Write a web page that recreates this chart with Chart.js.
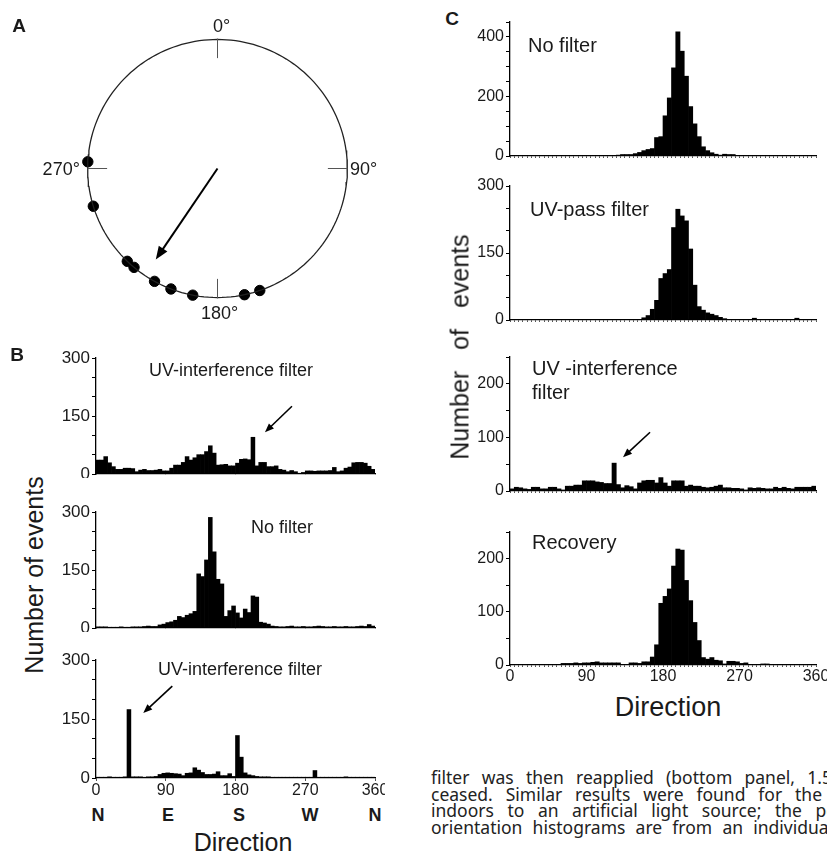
<!DOCTYPE html>
<html>
<head>
<meta charset="utf-8">
<script src="https://cdn.jsdelivr.net/npm/chart.js@4.4.0/dist/chart.umd.min.js"></script>
<style>
html,body{margin:0;padding:0;background:#fff;}
body{width:827px;height:854px;overflow:hidden;position:relative;font-family:"Liberation Sans",Arial,sans-serif;color:#1a1a1a;}
canvas{position:absolute;}
.t{position:absolute;white-space:nowrap;line-height:1;transform:translate(-50%,-50%);}
.l{position:absolute;white-space:nowrap;line-height:1;transform:translate(0,-50%);}
.letra{font-weight:bold;font-size:19px;}
.ylab{font-size:25px;transform:translate(-50%,-50%) rotate(-90deg);}
.cap{position:absolute;left:431px;white-space:nowrap;font-family:"Noto Sans","Open Sans",sans-serif;font-size:17.5px;line-height:1;color:#222;transform:translate(0,-50%);}
</style>
</head>
<body>
<canvas id="polar" width="389" height="335" style="left:23px;top:1px"></canvas>
<canvas id="b1" width="335" height="130" style="left:50px;top:348px"></canvas>
<canvas id="b2" width="335" height="130" style="left:50px;top:502px"></canvas>
<canvas id="b3" width="335" height="152" style="left:50px;top:650px"></canvas>
<canvas id="c1" width="363" height="148" style="left:464px;top:12px"></canvas>
<canvas id="c2" width="363" height="148" style="left:464px;top:176px"></canvas>
<canvas id="c3" width="363" height="148" style="left:464px;top:347px"></canvas>
<canvas id="c4" width="363" height="167" style="left:464px;top:522px"></canvas>

<div class="t letra" style="left:19px;top:25px">A</div>
<div class="t letra" style="left:17px;top:354px">B</div>
<div class="t letra" style="left:452px;top:18px">C</div>

<div class="t" style="left:231px;top:370px;font-size:18px">UV-interference filter</div>
<div class="t" style="left:282px;top:527px;font-size:18px">No filter</div>
<div class="t" style="left:240px;top:669px;font-size:18px">UV-interference filter</div>

<div class="l" style="left:528px;top:45px;font-size:20px">No filter</div>
<div class="l" style="left:530px;top:209px;font-size:20px">UV-pass filter</div>
<div class="l" style="left:532px;top:368px;font-size:20px">UV -interference</div>
<div class="l" style="left:532px;top:392px;font-size:20px">filter</div>
<div class="l" style="left:532px;top:542px;font-size:20px">Recovery</div>

<div class="t ylab" style="left:34px;top:575px">Number of events</div>
<div class="t ylab" style="left:460px;top:347px;word-spacing:14px">Number of events</div>

<div class="t" style="left:98px;top:815px;font-size:18px;font-weight:bold">N</div>
<div class="t" style="left:168px;top:815px;font-size:18px;font-weight:bold">E</div>
<div class="t" style="left:239px;top:815px;font-size:18px;font-weight:bold">S</div>
<div class="t" style="left:310px;top:815px;font-size:18px;font-weight:bold">W</div>
<div class="t" style="left:375px;top:815px;font-size:18px;font-weight:bold">N</div>

<div class="t" style="left:243px;top:842px;font-size:25px">Direction</div>
<div class="t" style="left:668px;top:707px;font-size:27px">Direction</div>

<!-- pie de figura: el prefijo marcado debe terminar en data-fin (px) -->
<div class="cap" style="top:778px" data-fin="822"><span class="pre">filter was then reapplied (bottom panel, 1.</span>5 h) and the</div>
<div class="cap" style="top:794.5px" data-fin="822"><span class="pre">ceased. Similar results were found for the</span> other</div>
<div class="cap" style="top:811px" data-fin="802"><span class="pre">indoors to an artificial light source; the</span> position of</div>
<div class="cap" style="top:827.5px" data-fin="743"><span class="pre">orientation histograms are from an</span> individual</div>

<script>
// ---- datos ----
const BIN = 5; // ancho de cada clase, en grados

// Panel A: direcciones individuales (grados) y vector medio
const rumbosA = [273, 253, 224, 220, 209, 201, 191, 168, 161];
const rumboMedio = 214;
const largoMedio = 0.85;
const etiquetasBrujula = ['0°', '90°', '180°', '270°'];

// Panel B (eventos por clase de 5°)
const uvFiltro1 = [36,36,45,29,19,12,12,15,15,14, 6,10,12,9,9,10,12,8,8,15,
  23,23,30,45,36,42,50,50,58,73, 54,23,24,25,21,21,28,38,39,37,
  95,21,30,30,19,19,21,12,10,6, 9,6,2,4,8,8,7,8,8,8,
  9,17,6,8,15,18,29,30,30,28, 20,12];
const sinFiltroB = [3,3,3,2,2,2,3,2,2,3, 3,3,4,5,4,4,8,10,14,16,
  20,30,27,33,37,43,140,133,176,286, 197,126,114,30,45,57,39,26,49,40,
  83,80,15,13,10,5,4,3,3,4, 5,3,3,4,3,3,4,5,4,3,
  3,4,3,3,4,3,3,4,5,4, 9,5];
const uvFiltro2 = [2,2,2,3,2,2,2,3,174,3, 3,3,2,3,3,4,9,12,13,12,
  11,10,6,12,13,26,20,14,9,9, 10,16,6,6,11,4,108,53,13,8,
  6,4,3,3,3,2,2,2,2,2, 2,2,2,2,2,2,19,2,2,2,
  2,2,2,2,3,2,2,2,2,2, 2,2];

// Panel C
const sinFiltroC = [0,0,0,0,0,0,0,0,0,0, 0,0,0,0,0,0,0,0,0,0,
  0,0,0,0,2,3,5,5,5,8, 12,18,22,25,62,65,135,195,296,417,
  352,268,166,108,65,31,18,11,6,3, 6,5,5,2,2,1,1,2,2,1,
  1,0,0,0,0,0,0,0,0,0, 0,0];
const uvPaso = [0,0,0,0,0,0,0,0,0,0, 0,0,0,0,0,0,0,0,0,0,
  0,0,0,0,0,0,0,0,0,0, 1,5,10,24,44,93,104,113,207,248,
  233,222,159,78,30,22,16,13,10,6, 3,1,1,1,1,1,1,4,1,1,
  1,1,1,1,1,1,1,4,1,1, 1,1];
const uvFiltroC = [4,7,6,4,3,7,7,4,4,7, 7,4,2,9,9,11,11,19,19,19,
  17,16,14,14,52,12,6,10,8,4, 15,19,20,20,15,25,15,9,19,19,
  19,9,11,9,9,7,6,7,9,11, 6,6,5,5,4,2,6,5,6,5,
  4,4,7,5,7,5,4,7,7,7, 7,9];
const recuperacion = [0,0,0,0,0,0,0,0,0,0, 0,0,3,3,3,4,3,4,4,5,
  6,4,4,4,4,4,1,1,4,4, 3,6,6,15,38,116,129,143,186,218,
  216,159,121,80,46,14,11,14,9,8, 2,7,7,6,3,4,0,0,1,2,
  2,0,0,0,0,0,0,0,0,0, 0,0];

Chart.defaults.font.family = '"Liberation Sans", Arial, sans-serif';
Chart.defaults.color = '#1a1a1a';

// justificar cada linea del pie de figura
document.querySelectorAll('.cap').forEach(function(linea){
    const pre = linea.querySelector('.pre');
    const espacios = (pre.textContent.match(/ /g) || []).length;
    const izq = linea.getBoundingClientRect().left;
    const ancho = pre.getBoundingClientRect().width;
    const fin = parseFloat(linea.dataset.fin);
    linea.style.wordSpacing = ((fin - izq - ancho) / espacios).toFixed(2) + 'px';
});

function dibujarFlecha(ctx, x0, y0, x1, y1, ancho, punta){
    const ang = Math.atan2(y1 - y0, x1 - x0);
    ctx.save();
    ctx.strokeStyle = '#000';
    ctx.fillStyle = '#000';
    ctx.lineWidth = ancho;
    ctx.beginPath();
    ctx.moveTo(x0, y0);
    ctx.lineTo(x1 - Math.cos(ang) * punta * 0.8, y1 - Math.sin(ang) * punta * 0.8);
    ctx.stroke();
    ctx.beginPath();
    ctx.moveTo(x1, y1);
    ctx.lineTo(x1 - punta * Math.cos(ang) + punta * 0.4 * Math.sin(ang), y1 - punta * Math.sin(ang) - punta * 0.4 * Math.cos(ang));
    ctx.lineTo(x1 - punta * Math.cos(ang) - punta * 0.4 * Math.sin(ang), y1 - punta * Math.sin(ang) + punta * 0.4 * Math.cos(ang));
    ctx.closePath();
    ctx.fill();
    ctx.restore();
}

// flechas que señalan una barra (punta en coordenadas de datos)
const pluginFlechas = {
    id: 'flechas',
    afterDatasetsDraw(chart, args, opts){
        const items = opts.items || [];
        const x = chart.scales.x, y = chart.scales.y;
        items.forEach(function(f){
            const tx = x.getPixelForValue(f.x), ty = y.getPixelForValue(f.y);
            dibujarFlecha(chart.ctx, tx + f.dx, ty + f.dy, tx, ty, 1.6, 9);
        });
    }
};

const Y_W = 46;

function histograma(id, conteos, cfg){
    const ctx = document.getElementById(id).getContext('2d');
    return new Chart(ctx, {
        type: 'bar',
        data: {
            datasets: [{
                data: conteos.map((v, i) => ({x: i * BIN + BIN / 2, y: v})),
                backgroundColor: '#000',
                borderWidth: 0,
                barPercentage: 1,
                categoryPercentage: 1
            }]
        },
        options: {
            responsive: false,
            animation: false,
            layout: {padding: {top: 10, right: cfg.padRight, left: 0, bottom: 0}},
            plugins: {
                legend: {display: false},
                tooltip: {enabled: false},
                flechas: {items: cfg.flechas || []}
            },
            scales: {
                x: {
                    type: 'linear', min: 0, max: 360, offset: false,
                    grid: {offset: false, drawOnChartArea: false, tickLength: cfg.xTick, color: '#555'},
                    border: {color: '#000', width: 1.3},
                    ticks: {
                        stepSize: cfg.xStep, autoSkip: false, maxRotation: 0, minRotation: 0,
                        display: cfg.xLabels, padding: 0, font: {size: 16},
                        callback: v => (v % 90 === 0 ? v : '')
                    },
                    afterFit: function(s){ s.height = cfg.xH; s.paddingLeft = 0; s.paddingRight = 0; }
                },
                y: {
                    min: 0, max: cfg.max,
                    grid: {drawOnChartArea: false, tickLength: 4, color: '#000'},
                    border: {color: '#000', width: 1.3},
                    ticks: {
                        stepSize: 50, autoSkip: false, padding: 2, font: {size: cfg.yFont},
                        callback: v => (v % cfg.major === 0 ? v : '')
                    },
                    afterFit: function(s){ s.width = Y_W; s.paddingTop = 0; s.paddingBottom = 0; }
                }
            }
        },
        plugins: [pluginFlechas]
    });
}

// ---- panel A ----
function aXY(grados, r){
    return {x: r * Math.sin(grados * Math.PI / 180), y: r * Math.cos(grados * Math.PI / 180)};
}

const pluginBrujula = {
    id: 'brujula',
    afterDatasetsDraw(chart){
        const ctx = chart.ctx, x = chart.scales.x, y = chart.scales.y;
        const cx = x.getPixelForValue(0), cy = y.getPixelForValue(0);
        const R = x.getPixelForValue(1) - cx;
        ctx.save();
        ctx.strokeStyle = '#555';
        ctx.lineWidth = 1;
        [0, 90, 180, 270].forEach(function(g){
            const s = Math.sin(g * Math.PI / 180), c = Math.cos(g * Math.PI / 180);
            ctx.beginPath();
            ctx.moveTo(cx + s * R, cy - c * R);
            ctx.lineTo(cx + s * R * 0.85, cy - c * R * 0.85);
            ctx.stroke();
        });
        ctx.fillStyle = '#1a1a1a';
        ctx.font = '18px "Liberation Sans", Arial, sans-serif';
        ctx.textBaseline = 'middle';
        ctx.textAlign = 'center';
        ctx.fillText(etiquetasBrujula[0], cx + 4, cy - R * 1.09);
        ctx.fillText(etiquetasBrujula[2], cx + 2, cy + R * 1.12);
        ctx.textAlign = 'left';
        ctx.fillText(etiquetasBrujula[1], cx + R * 1.02, cy + 2);
        ctx.textAlign = 'right';
        ctx.fillText(etiquetasBrujula[3], cx - R * 1.06, cy + 2);
        const tip = aXY(rumboMedio, largoMedio);
        dibujarFlecha(ctx, cx, cy, x.getPixelForValue(tip.x), y.getPixelForValue(tip.y), 2, 13);
        ctx.restore();
    }
};

const circulo = [];
for (let g = 0; g <= 360; g += 2) circulo.push(aXY(g, 1));

new Chart(document.getElementById('polar').getContext('2d'), {
    type: 'scatter',
    data: {
        datasets: [
            {data: circulo, showLine: true, pointRadius: 0, borderColor: '#222', borderWidth: 1.3},
            {data: rumbosA.map(g => aXY(g, 1)), pointRadius: 5.2, backgroundColor: '#000', borderColor: '#000'}
        ]
    },
    options: {
        responsive: false,
        animation: false,
        layout: {padding: 0},
        plugins: {legend: {display: false}, tooltip: {enabled: false}},
        scales: {
            x: {display: false, min: -1.45, max: 1.45},
            y: {display: false, min: -1.25, max: 1.25}
        }
    },
    plugins: [pluginBrujula]
});

// ---- panel B ----
histograma('b1', uvFiltro1, {max: 300, major: 150, yFont: 17, xStep: 90, xTick: 0, xLabels: false, xH: 4, padRight: 10,
    flechas: [{x: 218, y: 108, dx: 27, dy: -26}]});
histograma('b2', sinFiltroB, {max: 300, major: 150, yFont: 17, xStep: 90, xTick: 0, xLabels: false, xH: 4, padRight: 10});
histograma('b3', uvFiltro2, {max: 300, major: 150, yFont: 17, xStep: 90, xTick: 3, xLabels: true, xH: 24, padRight: 10,
    flechas: [{x: 61, y: 165, dx: 29, dy: -27}]});

// ---- panel C ----
histograma('c1', sinFiltroC, {max: 450, major: 200, yFont: 16, xStep: 5, xTick: 2, xLabels: false, xH: 4, padRight: 11});
histograma('c2', uvPaso, {max: 300, major: 150, yFont: 16, xStep: 5, xTick: 2, xLabels: false, xH: 4, padRight: 11});
histograma('c3', uvFiltroC, {max: 250, major: 100, yFont: 16, xStep: 5, xTick: 2, xLabels: false, xH: 4, padRight: 11,
    flechas: [{x: 133, y: 63, dx: 27, dy: -25}]});
histograma('c4', recuperacion, {max: 250, major: 100, yFont: 16, xStep: 5, xTick: 2, xLabels: true, xH: 24, padRight: 11});
</script>
</body>
</html>
